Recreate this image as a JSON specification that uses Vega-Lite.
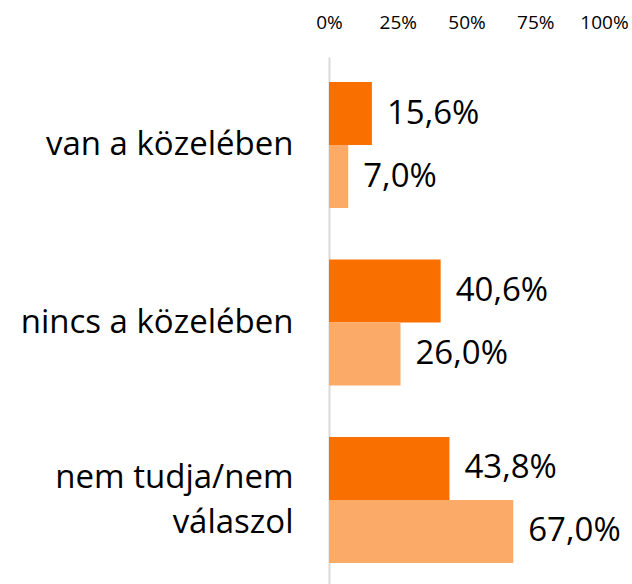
{
  "$schema": "https://vega.github.io/schema/vega-lite/v6.json",
  "autosize": "none",
  "width": 275,
  "height": 531,
  "padding": {"left": 329, "top": 57, "right": 28, "bottom": 0},
  "config": {
    "view": {"stroke": null},
    "font": "Open Sans",
    "locale": {"number": {"decimal": ",", "thousands": " ", "grouping": [3], "currency": ["", ""], "percent": "%"}}
  },
  "data": {
    "values": [
      {"cat": "van a közelében", "series": "A", "value": 0.156},
      {"cat": "van a közelében", "series": "B", "value": 0.070},
      {"cat": "nincs a közelében", "series": "A", "value": 0.406},
      {"cat": "nincs a közelében", "series": "B", "value": 0.260},
      {"cat": "nem tudja/nem válaszol", "series": "A", "value": 0.438},
      {"cat": "nem tudja/nem válaszol", "series": "B", "value": 0.670}
    ]
  },
  "encoding": {
    "y": {
      "field": "cat", "type": "nominal", "sort": null,
      "scale": {"paddingInner": 0.29, "paddingOuter": 0.141},
      "axis": {
        "title": null, "ticks": false, "domainColor": "#d9d9d9", "domainWidth": 2,
        "labelFontSize": 33, "labelColor": "#000000", "labelPadding": 36, "labelLimit": 400,
        "labelLineHeight": 45,
        "labelExpr": "datum.label == 'nem tudja/nem válaszol' ? ['nem tudja/nem', 'válaszol'] : datum.label",
        "labelOffset": {"condition": {"test": "datum.value == 'nem tudja/nem válaszol'", "value": -22}, "value": 0}
      }
    },
    "yOffset": {"field": "series", "type": "nominal", "sort": ["A", "B"]},
    "x": {
      "field": "value", "type": "quantitative",
      "scale": {"domain": [0, 1], "nice": false},
      "axis": {
        "orient": "top", "title": null, "values": [0, 0.25, 0.5, 0.75, 1], "format": ".0%",
        "ticks": false, "domain": false, "grid": false, "labelFontSize": 19, "labelColor": "#000000",
        "labelPadding": 25, "labelFlush": false
      }
    }
  },
  "layer": [
    {
      "mark": {"type": "bar"},
      "encoding": {
        "color": {
          "field": "series", "type": "nominal", "legend": null,
          "scale": {"domain": ["A", "B"], "range": ["#FA7000", "#FBAA68"]}
        }
      }
    },
    {
      "mark": {"type": "text", "align": "left", "baseline": "middle", "dx": 15, "fontSize": 33, "color": "#000000"},
      "encoding": {
        "text": {"field": "value", "type": "quantitative", "format": ".1%"}
      }
    }
  ]
}
